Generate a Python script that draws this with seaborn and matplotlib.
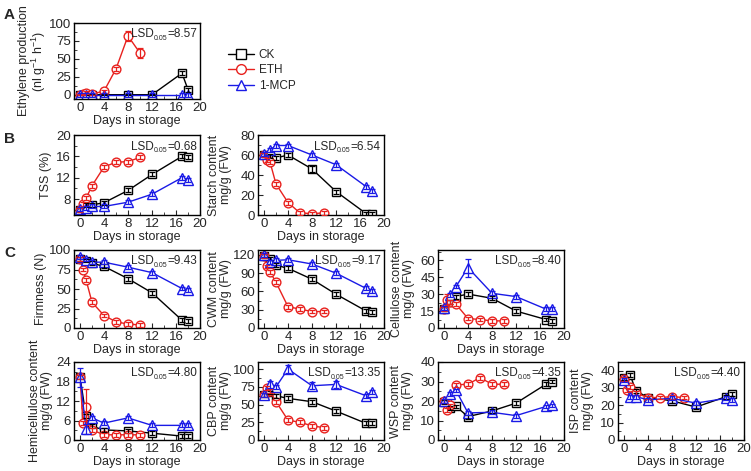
import numpy as np
import pandas as pd
import seaborn as sns
import matplotlib.pyplot as plt
from matplotlib.ticker import AutoMinorLocator
from matplotlib.lines import Line2D

days_ck = [0, 1, 2, 4, 8, 12, 17, 18]
days_eth = [0, 0.5, 1, 2, 4, 6, 8, 10]
days_mcp = [0, 1, 2, 4, 8, 12, 17, 18]

groups = ['CK', 'ETH', '1-MCP']
colors = {'CK': 'black', 'ETH': '#e8211e', '1-MCP': '#1a1ae6'}
markers = {'CK': 's', 'ETH': 'o', '1-MCP': '^'}
msizes = {'CK': 5.8, 'ETH': 6.3, '1-MCP': 7.2}

# ethylene
eth_ck = [0, 0, 0, 0, 0, 0, 30, 7]
eth_eth = [0, 1, 3, 1, 5, 36, 82, 58]
eth_mcp = [0, 0, 0, 0, 0, 0, 0, 0]
eth_err = {'ETH': [1, 1, 2, 1, 2, 3, 7, 7], 'CK': [0.5, 0.5, 0.5, 0.5, 0.5, 0.5, 3, 3]}

# TSS
tss_ck = [6.0, 6.8, 6.9, 7.3, 9.6, 12.6, 16.0, 15.8]
tss_eth = [6.0, 7.1, 8.1, 10.5, 14.0, 14.9, 15.0, 15.8]
tss_mcp = [6.1, 6.3, 6.6, 6.6, 7.4, 8.9, 12.0, 11.6]

# starch
sta_ck = [60, 59, 57, 60, 46, 23.5, 1.5, 1.5]
sta_eth = [60, 55, 53, 31, 12.5, 2, 1.5, 2]
sta_mcp = [61, 65, 69.5, 69.5, 60, 50.3, 28.5, 24]

# firmness
fir_ck = [88.6, 86.5, 83, 79, 63.3, 45.1, 10, 8.4]
fir_eth = [89, 75, 62, 33, 16, 8, 5, 4]
fir_mcp = [90.7, 87.8, 84.4, 84.4, 78, 71, 50.6, 48.5]

# CWM
cwm_ck = [118, 114, 103, 98, 80, 55.5, 28, 26.4]
cwm_eth = [118, 101, 92, 75, 35, 31, 27, 27]
cwm_mcp = [120, 109, 111, 112, 105, 90, 65, 61]

# cellulose
cel_ck = [17, 23, 27.8, 30, 26.3, 15, 7.5, 6.3]
cel_eth = [17, 25, 22.7, 21, 8.4, 7.5, 6.3, 6.3]
cel_mcp = [17.3, 29, 36.7, 53.4, 30.7, 27.8, 16.7, 16.7]

# hemicellulose
hem_ck = [19.5, 7.3, 4.2, 3.1, 2.8, 2.1, 1.2, 1.2]
hem_eth = [19.3, 5.2, 10.2, 3.1, 1.6, 1.6, 1.6, 1.6]
hem_mcp = [19.3, 3.4, 6.8, 5.2, 6.8, 4.5, 4.5, 4.5]

# CBP
cbp_ck = [64, 67, 62.4, 58.7, 54, 40.8, 23.5, 23.5]
cbp_eth = [64, 72.8, 69, 54, 28, 25, 20, 17.4]
cbp_mcp = [63.4, 78.4, 75, 100, 76.5, 78.4, 62.4, 68]

# WSP
wsp_ck = [19.7, 16.6, 17.2, 12, 14.9, 18.9, 28.6, 30]
wsp_eth = [20, 15.4, 17.7, 28.3, 28.6, 32, 28.6, 28.6]
wsp_mcp = [20, 23.7, 25.4, 13.9, 14.2, 12.5, 17.2, 17.7]

# ISP
isp_ck = [35.5, 37.7, 28.3, 24.5, 22.6, 19, 25, 26.4]
isp_eth = [35, 28.9, 30.8, 27, 24.5, 24.5, 25, 24.5]
isp_mcp = [34.5, 25, 25, 23.2, 24, 21.3, 24, 23.2]

panels = [
    # name, ylabel, ck, eth, mcp, ylim, yticks, lsd, pos(left, top, bottom px), ylabel x px
    ('eth', 'Ethylene production\n(nl g$^{-1}$ h$^{-1}$)', eth_ck, eth_eth, eth_mcp,
     (-6, 100), [0, 25, 50, 75, 100], '8.57', (74, 23, 99), -26),
    ('tss', 'TSS (%)', tss_ck, tss_eth, tss_mcp, (5, 20), [8, 12, 16, 20], '0.68',
     (74, 135, 215), -22),
    ('sta', 'Starch content\nmg/g (FW)', sta_ck, sta_eth, sta_mcp, (0, 80), [0, 20, 40, 60, 80],
     '6.54', (258, 135, 215), -26),
    ('fir', 'Firmness (N)', fir_ck, fir_eth, fir_mcp, (0, 100), [0, 25, 50, 75, 100], '9.43',
     (74, 250, 328), -27),
    ('cwm', 'CWM content\nmg/g (FW)', cwm_ck, cwm_eth, cwm_mcp, (0, 128), [0, 30, 60, 90, 120],
     '9.17', (258, 250, 328), -26),
    ('cel', 'Cellulose content\nmg/g (FW)', cel_ck, cel_eth, cel_mcp, (0, 69), [0, 15, 30, 45, 60],
     '8.40', (438, 250, 328), -23),
    ('hem', 'Hemicellulose content\nmg/g (FW)', hem_ck, hem_eth, hem_mcp, (0, 24),
     [0, 6, 12, 18, 24], '4.80', (74, 362, 440), -21),
    ('cbp', 'CBP content\nmg/g (FW)', cbp_ck, cbp_eth, cbp_mcp, (0, 110), [0, 25, 50, 75, 100],
     '13.35', (258, 362, 440), -26),
    ('wsp', 'WSP content\nmg/g (FW)', wsp_ck, wsp_eth, wsp_mcp, (0, 40), [0, 10, 20, 30, 40],
     '4.35', (438, 362, 440), -24),
    ('isp', 'ISP content\nmg/g (FW)', isp_ck, isp_eth, isp_mcp, (0, 45), [0, 10, 20, 30, 40],
     '4.40', (618, 362, 440), -24),
]

# a few visibly larger error bars
big_err = {
    ('cel', '1-MCP', 3): 8, ('cel', 'ETH', 1): 5,
    ('hem', '1-MCP', 0): 3, ('hem', 'ETH', 2): 5.5, ('hem', '1-MCP', 1): 1.5,
    ('cbp', '1-MCP', 3): 6, ('cbp', '1-MCP', 1): 5, ('cbp', '1-MCP', 4): 5, ('cbp', '1-MCP', 5): 5,
    ('sta', 'CK', 4): 3,
}

sns.set_style('ticks')
plt.rcParams['font.family'] = ['Liberation Sans', 'DejaVu Sans']
plt.rcParams['mathtext.fontset'] = 'custom'
plt.rcParams['mathtext.rm'] = 'Liberation Sans'
plt.rcParams['mathtext.it'] = 'Liberation Sans'

W, H = 751, 471
AXW = 126
fig = plt.figure(figsize=(W / 100, H / 100), dpi=100)

for name, ylabel, ck, eth, mcp, ylim, yticks, lsd, (lpx, tpx, bpx), labx in panels:
    ax = fig.add_axes([lpx / W, 1 - bpx / H, AXW / W, (bpx - tpx) / H])
    series = {'CK': (days_ck, ck), 'ETH': (days_eth, eth), '1-MCP': (days_mcp, mcp)}
    rng = ylim[1] - ylim[0]
    for g in groups:
        x, y = series[g]
        df = pd.DataFrame({'day': x, 'val': y})
        sns.lineplot(data=df, x='day', y='val', ax=ax, color=colors[g], marker=markers[g],
                     markersize=msizes[g], mfc='white', mec=colors[g],
                     mew=1.0, lw=1.0, zorder=2)
        if name == 'eth' and g in eth_err:
            err = eth_err[g]
        else:
            err = [big_err.get((name, g, i), rng * 0.025) for i in range(len(y))]
        ax.errorbar(x, y, yerr=err, fmt='none', ecolor=colors[g], elinewidth=0.9,
                    capsize=2, capthick=0.9, zorder=3)
    ax.set_xlim(-1, 20)
    ax.set_xticks([0, 4, 8, 12, 16, 20])
    ax.set_ylim(*ylim)
    ax.set_yticks(yticks)
    ax.xaxis.set_minor_locator(AutoMinorLocator(2))
    ax.yaxis.set_minor_locator(AutoMinorLocator(2))
    ax.tick_params(which='both', direction='in', labelsize=9.5, pad=2)
    ax.tick_params(which='major', length=3.5, width=0.8)
    ax.tick_params(which='minor', length=2, width=0.6)
    for s in ax.spines.values():
        s.set_linewidth(1.0)
        s.set_color('black')
    ax.set_xlabel('Days in storage', fontsize=9, labelpad=1)
    ax.set_ylabel(ylabel, fontsize=9, linespacing=1.0)
    ax.yaxis.set_label_coords(labx / AXW, 0.5)
    # LSD label with small subscript, built right-to-left
    t3 = ax.text(0.975, 0.78, '=' + lsd, transform=ax.transAxes, ha='right', va='bottom',
                 fontsize=8.5)
    t2 = ax.annotate('0.05', xy=(0, -0.15), xycoords=t3, ha='right', va='bottom', fontsize=5)
    ax.annotate('LSD', xy=(0, 0), xycoords=(t2, t3), ha='right', va='bottom', fontsize=8.5)

handles = [Line2D([0], [0], color=colors[g], marker=markers[g], mfc='white', mec=colors[g],
                  markersize=msizes[g] + 0.7, lw=1.0) for g in groups]
fig.legend(handles, groups, loc='upper left', bbox_to_anchor=(222 / W, 1 - 43 / H),
           frameon=False, fontsize=8.5, handlelength=2.2, handletextpad=0.4,
           labelspacing=0.3, borderpad=0)

for lab, ypx in [('A', 8), ('B', 132), ('C', 246)]:
    fig.text(4 / W, 1 - ypx / H, lab, fontsize=11, fontweight='bold', va='top')

fig.savefig('out.png', dpi=100)
